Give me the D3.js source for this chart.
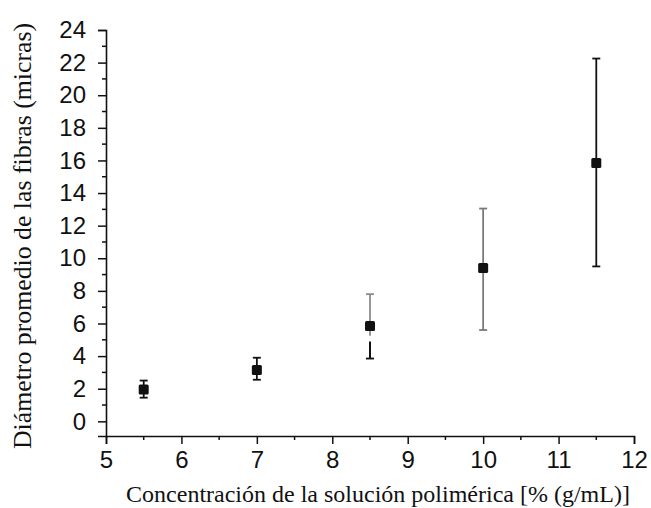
<!DOCTYPE html>
<html>
<head>
<meta charset="utf-8">
<script src="https://cdn.jsdelivr.net/npm/d3@7"></script>
<style>
  body { margin: 0; background: #fff; }
  svg { display: block; }
  .tick-label { font-family: "Liberation Sans", Arial, sans-serif; font-size: 24px; fill: #111; }
  .titulo { font-family: "Liberation Serif", "Times New Roman", serif; font-size: 24px; fill: #111; }
</style>
</head>
<body>
<div id="chart"></div>
<script>
// datos
var concentracion = [5.5, 7, 8.5, 10, 11.5]
var diametro = [1.95, 3.15, 5.85, 9.4, 15.85]
var errInf = [1.45, 2.55, 3.85, 5.6, 9.5]
var errSup = [2.5, 3.9, 7.8, 13.05, 22.25]
// la barra de 8.5 tiene un tramo inferior separado (negro)
var tramoInf = [null, null, 4.9, null, null]
var colorBarra = ["#111", "#111", "#8c8c8c", "#7a7a7a", "#111"]

var xTicks = [5, 6, 7, 8, 9, 10, 11, 12]
var yTicks = [0, 2, 4, 6, 8, 10, 12, 14, 16, 18, 20, 22, 24]

var width = 651, height = 508

var svg = d3.select("#chart").append("svg")
	.attr("width", width)
	.attr("height", height)

var x = d3.scaleLinear().domain([5, 12]).range([106, 634])
var y = d3.scaleLinear().domain([-0.9, 24]).range([436, 30])

// eje x (ticks hacia abajo)
var xAxis = d3.axisBottom(x).tickValues(xTicks).tickSize(8).tickPadding(5).tickFormat(d3.format("d"))
var gx = svg.append("g").attr("transform", "translate(0," + y(-0.9) + ")").call(xAxis)
gx.select(".domain").attr("stroke", "#111").attr("stroke-width", 1.6)
gx.selectAll(".tick line").attr("stroke", "#111").attr("stroke-width", 1.5)
gx.selectAll(".tick text").attr("class", "tick-label").attr("dy", "0.78em")
// menores
svg.append("g").selectAll("line")
	.data(d3.range(5.5, 12, 1))
	.enter().append("line")
	.attr("x1", function(d){ return x(d) }).attr("x2", function(d){ return x(d) })
	.attr("y1", y(-0.9)).attr("y2", y(-0.9) + 4)
	.attr("stroke", "#111").attr("stroke-width", 1.5)

// eje y (ticks hacia la izquierda)
var yAxis = d3.axisLeft(y).tickValues(yTicks).tickSize(8).tickPadding(12)
var gy = svg.append("g").attr("transform", "translate(" + x(5) + ",0)").call(yAxis)
gy.select(".domain").attr("stroke", "#111").attr("stroke-width", 1.6)
gy.selectAll(".tick line").attr("stroke", "#111").attr("stroke-width", 1.5)
gy.selectAll(".tick text").attr("class", "tick-label")
svg.append("g").selectAll("line")
	.data(d3.range(1, 24, 2))
	.enter().append("line")
	.attr("x1", x(5) - 4).attr("x2", x(5))
	.attr("y1", function(d){ return y(d) }).attr("y2", function(d){ return y(d) })
	.attr("stroke", "#111").attr("stroke-width", 1.5)

// barras de error
var puntos = concentracion.map(function(c, i) {
	return { x: c, y: diametro[i], lo: errInf[i], hi: errSup[i], tramo: tramoInf[i], color: colorBarra[i] }
})
var cap = 4
var barras = svg.append("g").selectAll("g").data(puntos).enter().append("g")
barras.append("line")
	.attr("x1", function(d){ return x(d.x) }).attr("x2", function(d){ return x(d.x) })
	.attr("y1", function(d){ return y(d.hi) })
	.attr("y2", function(d){ return d.tramo == null ? y(d.lo) : y(d.y - 0.6) })
	.attr("stroke", function(d){ return d.color }).attr("stroke-width", 1.8)
barras.append("line")
	.attr("x1", function(d){ return x(d.x) - cap }).attr("x2", function(d){ return x(d.x) + cap })
	.attr("y1", function(d){ return y(d.hi) }).attr("y2", function(d){ return y(d.hi) })
	.attr("stroke", function(d){ return d.color }).attr("stroke-width", 1.8)
barras.append("line")
	.attr("x1", function(d){ return x(d.x) - cap }).attr("x2", function(d){ return x(d.x) + cap })
	.attr("y1", function(d){ return y(d.lo) }).attr("y2", function(d){ return y(d.lo) })
	.attr("stroke", function(d){ return d.tramo == null ? d.color : "#111" }).attr("stroke-width", 1.8)
// tramo inferior separado
barras.filter(function(d){ return d.tramo != null }).append("line")
	.attr("x1", function(d){ return x(d.x) }).attr("x2", function(d){ return x(d.x) })
	.attr("y1", function(d){ return y(d.tramo) }).attr("y2", function(d){ return y(d.lo) })
	.attr("stroke", "#111").attr("stroke-width", 2)

// marcadores cuadrados
var s = 10
svg.append("g").selectAll("rect").data(puntos).enter().append("rect")
	.attr("x", function(d){ return x(d.x) - s / 2 })
	.attr("y", function(d){ return y(d.y) - s / 2 })
	.attr("width", s).attr("height", s)
	.attr("rx", 1.5)
	.attr("fill", "#111")

// títulos
svg.append("text").attr("class", "titulo")
	.attr("text-anchor", "middle")
	.style("font-size", "25.8px")
	.attr("transform", "translate(31,236) rotate(-90)")
	.text("Diámetro promedio de las fibras (micras)")

svg.append("text").attr("class", "titulo")
	.attr("text-anchor", "middle")
	.attr("x", 378).attr("y", 502)
	.text("Concentración de la solución polimérica [% (g/mL)]")
</script>
</body>
</html>
